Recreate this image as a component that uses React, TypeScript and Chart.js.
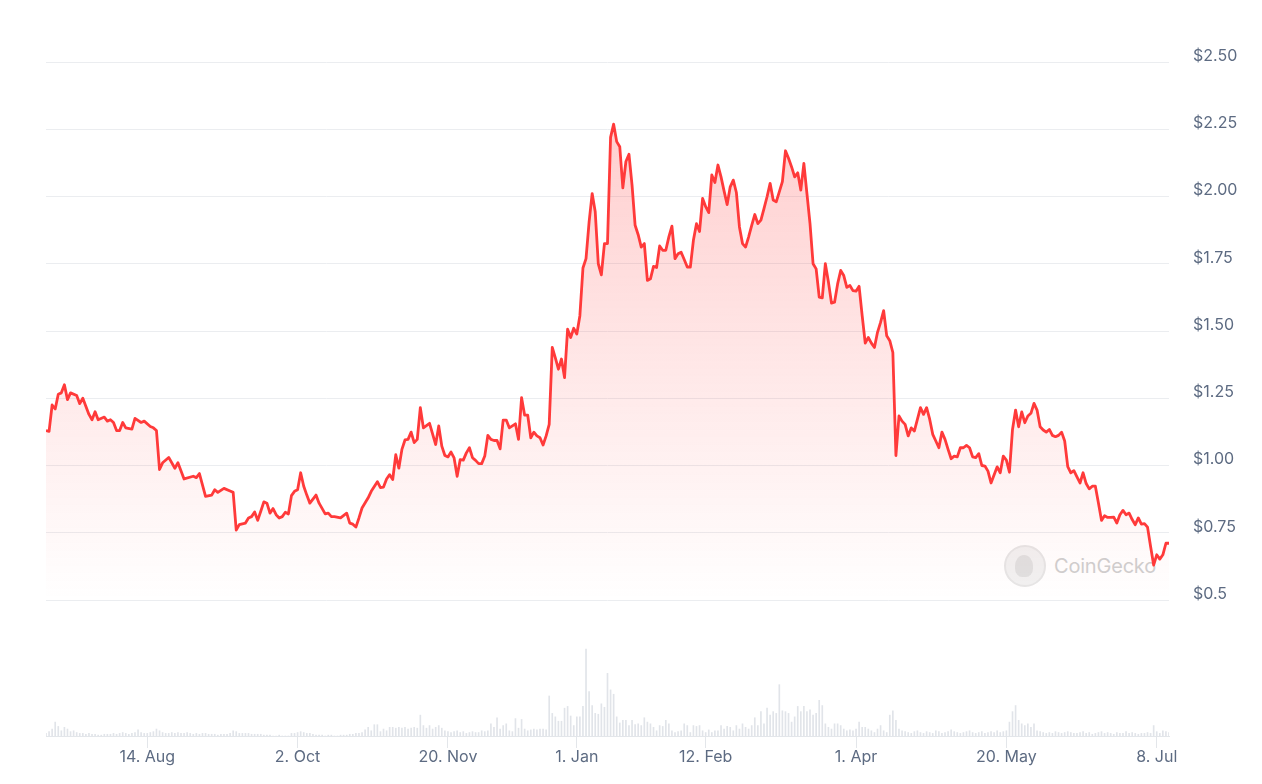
import React, { useEffect, useRef } from "react";
import { Chart, registerables } from "chart.js";

Chart.register(...registerables);

// Day offsets from 12 Jul 2023, and close prices (USD)
const dayIndex = [
  0, 1, 2, 3, 4, 5, 6, 7, 8, 10, 11, 12, 14, 15, 16, 17, 19, 20, 21, 22, 23, 24, 25, 26, 28, 29, 31, 32, 34, 35, 36, 37, 38, 40, 42, 43, 45, 48, 49, 50,
  52, 54, 55, 56, 58, 60, 61, 62, 63, 65, 66, 67, 68, 69, 70, 71, 72, 73, 74, 75, 76, 77, 78, 79, 80, 81, 82, 83, 84, 85, 86, 88, 89, 91, 92, 93, 94, 96, 98, 99,
  100, 101, 102, 103, 105, 106, 108, 109, 110, 111, 112, 113, 114, 115, 116, 117, 118, 119, 120, 121, 122, 123, 125, 127, 128, 129, 130, 131, 132, 133, 134, 135, 136, 137, 138, 139, 140, 141, 142, 143,
  144, 145, 146, 147, 148, 149, 150, 151, 153, 154, 155, 156, 157, 158, 159, 160, 161, 162, 163, 164, 165, 166, 167, 168, 169, 170, 171, 172, 173, 174, 175, 176, 177, 178, 179, 180, 181, 182, 183, 184,
  185, 186, 187, 188, 189, 190, 191, 192, 193, 194, 195, 196, 197, 198, 199, 200, 201, 202, 203, 204, 205, 206, 207, 208, 209, 210, 211, 212, 213, 214, 215, 216, 217, 218, 219, 220, 221, 222, 223, 224,
  225, 226, 227, 228, 229, 230, 231, 232, 233, 234, 235, 236, 237, 238, 240, 241, 242, 243, 244, 245, 246, 247, 248, 249, 250, 251, 252, 253, 254, 255, 256, 257, 258, 259, 260, 261, 262, 263, 264, 265,
  266, 267, 268, 269, 270, 271, 272, 273, 274, 275, 276, 277, 278, 279, 280, 281, 282, 283, 285, 286, 287, 288, 289, 290, 291, 292, 293, 294, 295, 296, 297, 298, 299, 300, 301, 302, 303, 304, 305, 306,
  307, 308, 310, 311, 312, 313, 314, 315, 316, 317, 318, 319, 320, 321, 322, 323, 324, 325, 326, 327, 328, 329, 330, 331, 332, 333, 334, 335, 336, 337, 338, 339, 340, 341, 342, 343, 344, 345, 346, 347,
  348, 349, 350, 351, 352, 353, 354, 355, 356, 357, 358, 359, 360, 361, 362, 363, 364, 365, 366,
];

const prices = [
  1.13, 1.127, 1.225, 1.21, 1.265, 1.27, 1.3, 1.245, 1.27, 1.26, 1.23, 1.25, 1.19, 1.17, 1.2, 1.17, 1.18, 1.165, 1.17, 1.16, 1.13, 1.13, 1.16, 1.14, 1.135, 1.175, 1.16, 1.165, 1.145, 1.14, 1.13, 0.985, 1.01, 1.03, 0.99, 1.01, 0.95, 0.96, 0.955, 0.97,
  0.885, 0.89, 0.91, 0.9, 0.915, 0.905, 0.9, 0.76, 0.78, 0.786, 0.805, 0.81, 0.827, 0.796, 0.83, 0.865, 0.86, 0.823, 0.84, 0.817, 0.805, 0.81, 0.826, 0.82, 0.888, 0.904, 0.91, 0.973, 0.923, 0.89, 0.86, 0.89, 0.86, 0.82, 0.823, 0.81, 0.81, 0.805, 0.823, 0.786,
  0.782, 0.771, 0.805, 0.842, 0.88, 0.904, 0.94, 0.918, 0.92, 0.95, 0.966, 0.948, 1.04, 0.99, 1.06, 1.095, 1.097, 1.124, 1.085, 1.097, 1.215, 1.14, 1.157, 1.078, 1.147, 1.072, 1.037, 1.032, 1.05, 1.028, 0.96, 1.022, 1.02, 1.047, 1.066, 1.029, 1.019, 1.007, 1.007, 1.035,
  1.112, 1.097, 1.093, 1.093, 1.062, 1.169, 1.169, 1.14, 1.155, 1.097, 1.252, 1.187, 1.187, 1.103, 1.124, 1.11, 1.103, 1.076, 1.11, 1.153, 1.439, 1.4, 1.358, 1.396, 1.327, 1.507, 1.476, 1.51, 1.489, 1.557, 1.734, 1.769, 1.905, 2.011, 1.943, 1.75, 1.709, 1.825, 1.825, 2.22,
  2.269, 2.204, 2.185, 2.032, 2.13, 2.157, 2.042, 1.893, 1.858, 1.812, 1.825, 1.688, 1.694, 1.74, 1.736, 1.816, 1.8, 1.8, 1.85, 1.89, 1.769, 1.787, 1.793, 1.766, 1.738, 1.738, 1.837, 1.899, 1.87, 1.993, 1.962, 1.94, 2.08, 2.052, 2.117, 2.073, 2.02, 1.97, 2.036, 2.061,
  2.015, 1.887, 1.825, 1.812, 1.85, 1.893, 1.933, 1.899, 1.912, 1.955, 1.999, 2.049, 1.987, 1.98, 2.055, 2.17, 2.142, 2.11, 2.073, 2.088, 2.024, 2.123, 2.011, 1.899, 1.75, 1.731, 1.626, 1.623, 1.75, 1.682, 1.604, 1.607, 1.675, 1.725, 1.706, 1.662, 1.669, 1.65, 1.648, 1.666,
  1.557, 1.455, 1.476, 1.455, 1.439, 1.495, 1.532, 1.576, 1.482, 1.464, 1.42, 1.037, 1.184, 1.165, 1.153, 1.11, 1.14, 1.128, 1.215, 1.19, 1.215, 1.172, 1.116, 1.091, 1.066, 1.124, 1.097, 1.06, 1.025, 1.035, 1.032, 1.066, 1.066, 1.075, 1.066, 1.032, 1.029, 1.044, 1.0, 0.998,
  0.979, 0.935, 0.995, 0.973, 1.035, 1.02, 0.975, 1.134, 1.206, 1.144, 1.199, 1.159, 1.184, 1.194, 1.231, 1.206, 1.144, 1.132, 1.124, 1.134, 1.112, 1.107, 1.112, 1.124, 1.091, 0.996, 0.973, 0.981, 0.958, 0.935, 0.973, 0.933, 0.913, 0.923, 0.923, 0.861, 0.796, 0.813, 0.807, 0.807,
  0.808, 0.786, 0.817, 0.833, 0.817, 0.823, 0.799, 0.78, 0.805, 0.782, 0.784, 0.771, 0.699, 0.63, 0.668, 0.652, 0.668, 0.711, 0.711,
];

// Daily trading volume (relative units), one per day from day 0 to day 366
const volume = [
  3, 5, 8, 16, 11, 6, 10, 8, 5, 6, 4, 3,
  3, 2, 3, 2, 2, 1, 1, 2, 2, 2, 3, 2, 3, 4, 3, 2, 3, 4,
  7, 4, 3, 3, 4, 5, 8, 6, 4, 3, 3, 4, 3, 4, 3, 3, 4, 3, 2, 3, 2,
  3, 3, 2, 2, 2, 1, 2, 2, 2, 3, 6, 5, 3, 3, 3, 3, 2, 2, 2, 2,
  1, 1, 1, 0, 0, 1, 0, 0, 0, 3, 3, 4, 5, 4, 3, 3, 2, 1, 1, 1,
  0, 1, 1, 0, 0, 1, 1, 1, 2,
  2, 3, 3, 4,
  7, 10, 6, 13, 13, 5, 8,
  6, 10, 10, 9, 10, 9, 10, 8, 9, 10, 9,
  24,
  12, 9, 12, 8, 10, 12, 9,
  6, 5, 4, 5, 6, 4, 5, 3, 4, 5, 4, 4, 6, 5,
  6, 14, 10, 21, 8, 12,
  14, 6, 5, 20, 9, 19,
  8, 6, 7, 8, 7, 8, 8, 7,
  46,
  26, 22, 17, 17, 32, 34, 23, 12, 22, 22, 34,
  100,
  51, 35, 26, 25, 37, 33,
  72,
  53, 48, 22, 15, 18, 18, 12, 18, 13, 14,
  12, 21, 16, 14, 10, 6, 12, 11, 18, 14, 6, 4, 5, 6, 14,
  12, 4, 12, 11, 12, 6, 4, 7, 4, 6, 6, 12, 8, 11,
  10, 6, 12, 8, 14, 10, 8, 12, 21, 12,
  28, 14, 32, 24, 28, 26, 59, 29, 28, 26,
  16, 22, 34, 28, 34, 28, 30,
  24, 26, 41, 35, 14, 10,
  8, 14, 14, 12, 8, 6, 7,
  6, 8, 16, 10, 10, 8, 6, 4, 8, 12, 6, 4,
  24, 29, 18, 8, 6,
  5, 4, 3, 5, 6, 4, 3, 5, 4, 3, 6, 5, 3, 4, 5, 7, 5, 4, 3, 4, 5, 6, 4, 3, 4, 5, 3, 4, 5, 4, 6, 4, 5,
  6, 16, 28, 35, 18, 14, 12, 14, 10, 14,
  6, 5, 4, 3, 4, 3, 5, 4, 3, 4, 5, 4, 3, 3, 4, 5, 3, 4, 2, 3, 4, 5, 3, 4, 3, 2, 4, 3, 3, 5, 3, 4, 3, 2, 3, 3, 4, 3, 12, 5, 3, 6, 5, 4,
];

const xTickDays = [33, 82, 131, 173, 215, 264, 313, 362];
const xTickLabels = ["14. Aug", "2. Oct", "20. Nov", "1. Jan", "12. Feb", "1. Apr", "20. May", "8. Jul"];

const priceTicks = [0.5, 0.75, 1.0, 1.25, 1.5, 1.75, 2.0, 2.25, 2.5];
const priceTickLabels = ["$0.5", "$0.75", "$1.00", "$1.25", "$1.50", "$1.75", "$2.00", "$2.25", "$2.50"];

const W = 1262;
const H = 784;
const AREA_LEFT = 46;
const AREA_TOP = 62;
const AREA_RIGHT = 1169;
const AREA_BOTTOM = 736;
const PRICE_LINE_BOTTOM = 600; // pixel of $0.5
const LABEL_COLOR = "#5d6b82";
const FONT = { family: "Inter", size: 16 };

export default function App() {
  const canvasRef = useRef<HTMLCanvasElement | null>(null);

  useEffect(() => {
    const canvas = canvasRef.current;
    if (!canvas) return;
    const areaH = AREA_BOTTOM - AREA_TOP;
    const priceMax = 2.5;
    const priceSpan = 2.0 * areaH / (PRICE_LINE_BOTTOM - AREA_TOP);
    const priceMin = priceMax - priceSpan;
    const volMax = Math.max(...volume) * areaH / 87;

    const chart = new Chart(canvas, {
      type: "line",
      data: {
        datasets: [
          {
            type: "line",
            data: dayIndex.map((d, i) => ({ x: d, y: prices[i] })),
            yAxisID: "y",
            borderColor: "#ff3a3a",
            borderWidth: 2.8,
            borderJoinStyle: "round",
            pointRadius: 0,
            tension: 0,
            fill: "start",
            order: 1,
            backgroundColor: (ctx: any) => {
              const ch = ctx.chart;
              const area = ch.chartArea;
              if (!area) return "rgba(255,59,59,0.1)";
              const ys = ch.scales.y;
              const top = ys.getPixelForValue(2.5);
              const bot = ys.getPixelForValue(0.5);
              const g = ch.ctx.createLinearGradient(0, top, 0, bot);
              g.addColorStop(0, "rgba(255,59,59,0.28)");
              g.addColorStop(1, "rgba(255,59,59,0)");
              return g;
            },
          } as any,
          {
            type: "bar",
            data: volume.map((v, i) => ({ x: i, y: v })),
            yAxisID: "yv",
            backgroundColor: "#e1e4e9",
            barThickness: 1,
            order: 2,
          } as any,
        ],
      },
      options: {
        responsive: false,
        animation: false,
        devicePixelRatio: 1,
        layout: { padding: { left: AREA_LEFT, top: AREA_TOP, right: 0, bottom: 0 } },
        plugins: { legend: { display: false }, tooltip: { enabled: false } },
        scales: {
          x: {
            type: "linear",
            min: 0,
            max: 366,
            offset: false,
            afterBuildTicks: (s: any) => {
              s.ticks = xTickDays.map((v) => ({ value: v }));
            },
            afterFit: (s: any) => {
              s.height = H - AREA_BOTTOM;
            },
            ticks: {
              autoSkip: false,
              maxRotation: 0,
              padding: 0,
              color: LABEL_COLOR,
              font: FONT,
              callback: (_v: any, i: number) => xTickLabels[i],
            },
            grid: { offset: false, drawOnChartArea: false, drawTicks: true, tickLength: 12, color: "#e3e6ea" },
            border: { display: true, color: "#e3e6ea" },
          },
          y: {
            type: "linear",
            position: "right",
            min: priceMin,
            max: priceMax,
            afterBuildTicks: (s: any) => {
              s.ticks = priceTicks.map((v) => ({ value: v }));
            },
            afterFit: (s: any) => {
              s.width = W - AREA_RIGHT;
            },
            ticks: {
              padding: 24,
              labelOffset: -6,
              color: LABEL_COLOR,
              font: FONT,
              callback: (_v: any, i: number) => priceTickLabels[i],
            },
            grid: { color: "#ebedf0", drawTicks: false },
            border: { display: false },
          },
          yv: {
            type: "linear",
            display: false,
            min: 0,
            max: volMax,
          },
        },
      } as any,
    });
    return () => chart.destroy();
  }, []);

  return (
    <div style={{ position: "absolute", left: 0, top: 0, width: W, height: H, background: "#ffffff", overflow: "hidden" }}>
      <div
        style={{
          position: "absolute",
          left: 1004,
          top: 545,
          height: 42,
          display: "flex",
          alignItems: "center",
          zIndex: 0,
        }}
      >
        <div
          style={{
            width: 38,
            height: 38,
            borderRadius: "50%",
            background: "#f1f1f1",
            border: "2px solid #e6e6e6",
            position: "relative",
          }}
        >
          <div
            style={{
              position: "absolute",
              left: 9,
              top: 8,
              width: 18,
              height: 22,
              borderRadius: "50% 50% 40% 40%",
              background: "#e0e0e0",
            }}
          />
        </div>
        <span
          style={{
            marginLeft: 8,
            fontFamily: "Inter, sans-serif",
            fontSize: 20,
            color: "#d0d0d0",
            letterSpacing: -0.2,
          }}
        >
          CoinGecko
        </span>
      </div>
      <canvas
        ref={canvasRef}
        width={W}
        height={H}
        style={{ position: "absolute", left: 0, top: 0, width: W, height: H, zIndex: 1 }}
      />
    </div>
  );
}
